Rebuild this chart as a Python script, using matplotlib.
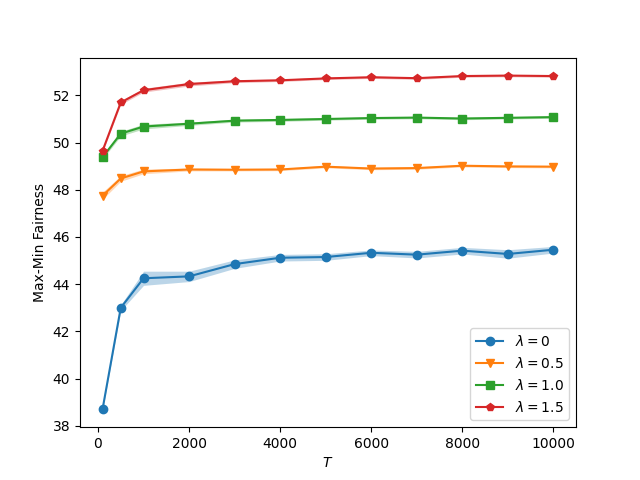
import numpy as np
import matplotlib.pyplot as plt

# horizon values
T = [100, 500, 1000, 2000, 3000, 4000, 5000, 6000, 7000, 8000, 9000, 10000]

# mean fairness per lambda
lam0 = [38.7, 43.0, 44.25, 44.33, 44.85, 45.12, 45.15, 45.33, 45.25, 45.42, 45.28, 45.46]
lam05 = [47.75, 48.48, 48.78, 48.86, 48.85, 48.86, 48.98, 48.9, 48.92, 49.02, 48.99, 48.98]
lam10 = [49.38, 50.38, 50.68, 50.8, 50.93, 50.96, 51.0, 51.04, 51.06, 51.02, 51.05, 51.08]
lam15 = [49.65, 51.7, 52.22, 52.48, 52.6, 52.64, 52.72, 52.77, 52.73, 52.82, 52.84, 52.82]

# spread (half width of shaded band)
sd0 = [0.05, 0.12, 0.3, 0.22, 0.18, 0.14, 0.14, 0.12, 0.14, 0.14, 0.18, 0.14]
sd05 = [0.15, 0.12, 0.1, 0.06, 0.05, 0.05, 0.05, 0.05, 0.05, 0.05, 0.05, 0.05]
sd10 = [0.08, 0.1, 0.1, 0.07, 0.06, 0.06, 0.05, 0.05, 0.05, 0.05, 0.05, 0.05]
sd15 = [0.06, 0.08, 0.08, 0.08, 0.06, 0.05, 0.05, 0.05, 0.05, 0.05, 0.05, 0.05]

labels = [r'$\lambda=0$', r'$\lambda=0.5$', r'$\lambda=1.0$', r'$\lambda=1.5$']
markers = ['o', 'v', 's', 'p']

fig, ax = plt.subplots(figsize=(6.4, 4.8), dpi=100)

x = np.array(T)
for m, s, lab, mk in zip([lam0, lam05, lam10, lam15], [sd0, sd05, sd10, sd15], labels, markers):
    m = np.array(m)
    s = np.array(s)
    line, = ax.plot(x, m, marker=mk, label=lab)
    ax.fill_between(x, m - s, m + s, color=line.get_color(), alpha=0.3, linewidth=0)

ax.set_xlabel('$T$')
ax.set_ylabel('Max-Min Fairness')
ax.legend(loc='lower right')

plt.savefig('out.png')
